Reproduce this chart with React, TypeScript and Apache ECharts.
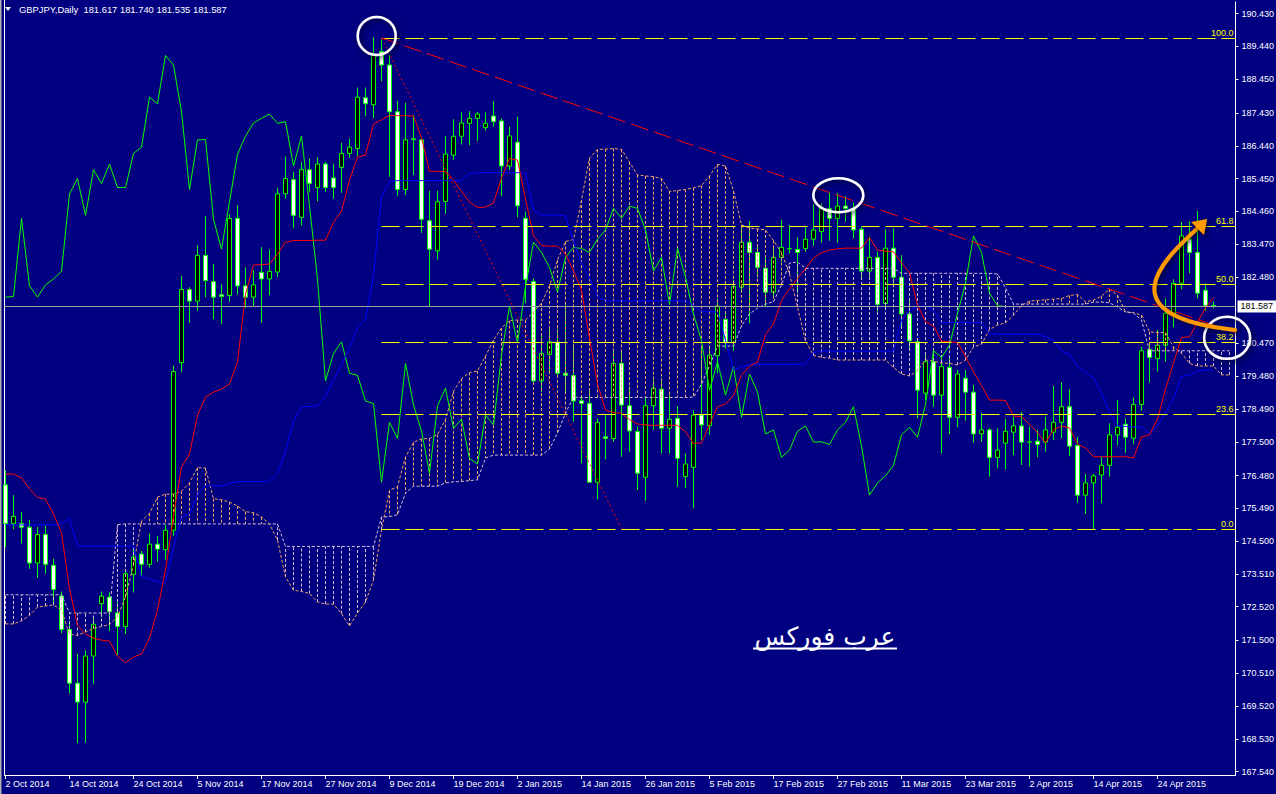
import React, { useEffect, useRef } from "react";
import * as echarts from "echarts";

// ---------- axes ----------
const dateLabels = [
  "2 Oct 2014", "14 Oct 2014", "24 Oct 2014", "5 Nov 2014", "17 Nov 2014", "27 Nov 2014",
  "9 Dec 2014", "19 Dec 2014", "2 Jan 2015", "14 Jan 2015", "26 Jan 2015", "5 Feb 2015",
  "17 Feb 2015", "27 Feb 2015", "11 Mar 2015", "23 Mar 2015", "2 Apr 2015", "14 Apr 2015", "24 Apr 2015",
];
const dateTickBars = [0, 8, 16, 24, 32, 40, 48, 56, 64, 72, 80, 88, 96, 104, 112, 120, 128, 136, 144];
const priceTicks = [
  190.43, 189.44, 188.45, 187.43, 186.44, 185.45, 184.46, 183.47, 182.48, 180.47, 179.48, 178.49,
  177.5, 176.48, 175.49, 174.5, 173.51, 172.52, 171.5, 170.51, 169.52, 168.53, 167.54,
];

// ---------- GBPJPY daily candles ----------
const opens = [
  176.2, 175.03, 175.03, 174.92, 173.84, 174.7, 173.77, 172.84, 171.83, 170.21,
  169.64, 171.03, 172.61, 172.81, 172.33, 171.92, 173.5, 174.11, 173.8, 174.41,
  174.24, 174.83, 179.89, 182.1, 181.75, 183.13, 182.34, 181.94, 181.92, 184.25,
  182.21, 181.87, 182.62, 182.42, 182.63, 184.99, 185.42, 184.28, 185.72, 185.18,
  185.89, 185.47, 185.79, 186.21, 186.36, 187.89, 187.68, 189.29, 188.88, 187.47,
  185.12, 186.65, 186.62, 184.18, 183.27, 184.76, 186.16, 186.73, 187.12, 187.27,
  186.99, 187.34, 187.19, 185.83, 186.55, 184.25, 182.34, 179.34, 180.14, 180.51,
  179.57, 179.5, 178.74, 178.66, 176.28, 177.65, 177.6, 179.87, 178.59, 177.81,
  176.43, 178.59, 179.09, 177.91, 178.21, 176.45, 176.73, 178.31, 177.99, 180.1,
  181.2, 180.5, 182.17, 183.53, 183.22, 182.74, 182.02, 183.07, 183.33, 183.31,
  183.34, 183.62, 183.85, 184.55, 184.25, 184.62, 184.55, 183.92, 182.66, 183.07,
  181.68, 183.35, 182.47, 181.36, 180.52, 178.97, 179.92, 178.91, 179.75, 178.24,
  179.42, 179.0, 177.74, 177.86, 177.03, 177.46, 177.79, 177.98, 177.49, 177.52,
  177.49, 177.79, 178.09, 178.56, 177.39, 175.89, 176.26, 176.5, 176.79, 177.71,
  178.03, 177.61, 178.63, 180.29, 180.02, 180.42, 181.36, 182.29, 183.62, 183.22,
  182.08, 181.617,
];
const highs = [
  176.64, 175.89, 175.38, 175.14, 174.93, 174.97, 173.97, 172.98, 172.1, 171.1,
  171.2, 172.2, 172.98, 172.95, 172.65, 173.66, 174.29, 174.21, 174.73, 174.66,
  175.0, 179.8, 182.51, 182.17, 183.44, 184.32, 182.87, 182.26, 184.38, 184.65,
  182.77, 182.69, 183.38, 183.31, 185.17, 186.12, 185.65, 185.95, 186.06, 186.1,
  185.95, 185.9, 186.53, 186.65, 188.2, 188.2, 189.72, 189.65, 189.19, 187.8,
  187.74, 187.37, 186.71, 185.08, 185.08, 186.74, 187.24, 187.45, 187.49, 187.47,
  187.45, 187.79, 187.27, 187.02, 187.32, 184.45, 182.44, 180.73, 180.93, 180.92,
  181.68, 180.47, 178.86, 179.06, 178.21, 178.31, 180.27, 180.27, 179.17, 177.96,
  178.86, 179.39, 179.42, 178.94, 178.58, 177.15, 178.46, 180.37, 180.42, 181.83,
  181.45, 182.39, 184.02, 184.17, 183.39, 183.11, 183.39, 184.2, 184.05, 183.68,
  183.98, 184.68, 184.7, 185.02, 185.01, 184.92, 184.72, 183.98, 183.7, 183.24,
  183.92, 183.95, 183.14, 181.83, 180.63, 180.17, 180.25, 180.12, 180.07, 179.67,
  179.67, 179.22, 178.38, 177.91, 177.91, 178.19, 178.26, 178.41, 177.96, 177.86,
  178.26, 179.19, 179.3, 179.09, 177.65, 176.53, 176.53, 177.05, 178.06, 178.76,
  178.21, 178.84, 180.37, 180.45, 180.88, 181.83, 182.41, 184.14, 184.16, 184.47,
  182.29, 181.74,
];
const lows = [
  174.32, 174.86, 174.43, 173.66, 173.39, 173.52, 172.61, 171.72, 169.91, 168.4,
  168.41, 170.19, 172.2, 171.79, 171.06, 171.69, 172.95, 173.43, 173.7, 173.88,
  173.94, 174.66, 179.6, 181.09, 181.46, 181.87, 181.2, 181.06, 181.73, 181.95,
  181.54, 181.61, 181.09, 181.93, 182.48, 184.85, 183.96, 184.03, 185.05, 184.76,
  185.05, 184.84, 185.02, 186.07, 186.13, 187.34, 187.28, 188.39, 185.5, 184.93,
  184.95, 185.56, 183.81, 181.58, 183.0, 184.39, 186.02, 186.48, 186.46, 186.59,
  186.9, 187.02, 184.92, 185.71, 184.28, 181.68, 179.27, 179.01, 179.62, 179.45,
  178.97, 178.11, 176.85, 176.27, 175.76, 176.97, 177.5, 177.05, 177.2, 176.04,
  175.72, 177.86, 177.15, 177.15, 176.14, 176.1, 175.49, 177.55, 177.71, 179.57,
  180.32, 180.25, 182.06, 181.08, 182.46, 181.58, 181.83, 182.94, 183.19, 181.99,
  183.24, 183.42, 183.51, 183.57, 183.51, 184.15, 183.65, 182.39, 182.39, 181.43,
  181.53, 182.19, 180.93, 180.32, 178.21, 178.76, 178.56, 177.15, 177.73, 177.94,
  178.14, 177.47, 177.5, 176.45, 176.7, 176.67, 177.1, 176.8, 176.75, 177.03,
  177.2, 177.55, 177.61, 177.07, 175.66, 175.32, 174.86, 175.64, 176.45, 177.4,
  177.17, 177.43, 178.44, 179.29, 179.62, 179.92, 180.96, 182.11, 182.59, 181.83,
  181.46, 181.535,
];
const closes = [
  175.03, 175.25, 174.92, 173.84, 174.7, 173.8, 173.04, 171.83, 170.21, 169.64,
  171.03, 171.99, 172.84, 172.37, 171.92, 173.52, 174.02, 173.8, 174.41, 174.26,
  174.83, 179.62, 182.1, 181.75, 183.13, 182.37, 181.87, 181.89, 184.25, 182.21,
  181.87, 182.24, 182.42, 182.65, 184.99, 185.45, 184.34, 185.72, 185.3, 185.89,
  185.18, 185.18, 186.21, 186.4, 187.91, 187.71, 189.17, 188.88, 187.47, 185.12,
  186.62, 186.63, 184.22, 183.32, 184.75, 186.19, 186.73, 187.13, 187.27, 187.4,
  187.12, 187.17, 185.83, 186.74, 184.63, 182.41, 179.34, 180.17, 180.52, 179.57,
  179.51, 178.73, 178.66, 176.28, 178.09, 177.6, 179.87, 178.61, 177.83, 176.55,
  178.59, 179.12, 177.91, 178.18, 177.0, 176.83, 178.31, 178.01, 180.12, 181.6,
  180.49, 182.19, 183.53, 183.22, 182.77, 182.02, 183.07, 183.37, 183.34, 183.22,
  183.62, 183.9, 184.55, 184.25, 184.62, 184.55, 183.9, 182.66, 183.07, 181.65,
  183.35, 182.47, 181.36, 180.55, 179.06, 179.92, 178.91, 179.77, 178.24, 179.55,
  179.0, 177.74, 177.86, 177.03, 177.25, 177.82, 177.98, 177.49, 177.5, 177.42,
  177.86, 178.09, 178.56, 177.37, 175.89, 176.26, 176.47, 176.79, 177.71, 177.94,
  177.64, 178.63, 180.25, 180.05, 180.42, 181.38, 182.29, 183.72, 183.22, 181.99,
  181.61, 181.587,
];

// ---------- Ichimoku ----------
const tenkan = [
  176.53, 176.53, 176.41, 176.08, 175.82, 175.77, 175.32, 174.75, 173.06, 171.96,
  171.69, 171.57, 171.51, 171.48, 171.02, 170.83, 171.0, 171.09, 171.57, 172.42,
  173.63, 175.26, 176.74, 177.13, 178.31, 178.85, 179.0, 179.09, 179.25, 179.91,
  181.96, 182.84, 182.85, 182.87, 183.17, 183.53, 183.58, 183.58, 183.58, 183.59,
  183.59, 184.13, 184.46, 185.41, 186.1, 186.16, 187.1, 187.23, 187.36, 187.35,
  187.35, 187.34, 186.68, 185.67, 185.67, 185.66, 185.41, 185.06, 184.74, 184.58,
  184.59, 184.71, 185.47, 186.06, 186.01, 184.83, 183.72, 183.43, 183.41, 183.41,
  183.17, 182.66, 182.08, 180.64, 179.24, 178.46, 178.38, 178.36, 178.17, 178.04,
  178.01, 178.0, 178.0, 178.0, 178.0, 177.8, 177.45, 177.47, 178.02, 178.56,
  178.64, 178.9, 179.51, 179.78, 179.91, 180.74, 181.06, 181.77, 182.12, 182.43,
  182.73, 183.05, 183.21, 183.29, 183.33, 183.35, 183.35, 183.35, 183.67, 183.29,
  183.26, 183.24, 182.9, 182.61, 181.63, 181.13, 181.0, 180.54, 180.52, 180.5,
  180.08, 179.61, 179.2, 178.76, 178.76, 178.75, 178.28, 178.26, 178.03, 177.78,
  177.47, 177.86, 177.98, 177.92, 177.43, 177.31, 177.05, 177.05, 177.05, 177.05,
  177.05, 177.01, 177.65, 177.71, 178.19, 179.09, 179.88, 180.65, 180.67, 181.12,
  181.54, 181.86,
];
const kijun = [
  174.99, 174.99, 174.99, 174.99, 174.99, 174.99, 174.99, 175.03, 175.17, 174.35,
  174.35, 174.35, 174.35, 174.35, 174.35, 174.35, 174.35, 173.42, 173.36, 173.27,
  173.24, 174.32, 175.22, 175.32, 175.91, 176.17, 176.17, 176.17, 176.24, 176.3,
  176.3, 176.3, 176.3, 176.3, 176.54, 177.22, 178.13, 178.55, 178.57, 178.58,
  178.88, 179.37, 179.83, 180.33, 180.97, 181.18, 182.54, 184.91, 185.36, 185.39,
  185.39, 185.39, 185.39, 185.39, 185.39, 185.39, 185.39, 185.39, 185.6, 185.63,
  185.63, 185.63, 185.63, 185.63, 185.63, 185.62, 184.5, 184.35, 184.35, 184.35,
  184.32, 183.56, 182.9, 182.45, 181.87, 181.76, 181.76, 181.76, 181.76, 181.76,
  181.76, 181.76, 181.76, 181.76, 181.76, 181.76, 181.63, 181.43, 181.43, 181.42,
  180.57, 179.67, 179.76, 179.83, 179.84, 179.84, 179.84, 179.84, 179.84, 179.84,
  179.85, 180.2, 180.24, 180.24, 180.24, 180.24, 180.24, 180.24, 180.24, 180.24,
  180.24, 180.24, 181.18, 181.45, 181.6, 181.6, 181.48, 181.1, 181.1, 181.1,
  181.1, 181.1, 181.1, 180.75, 180.75, 180.75, 180.75, 180.75, 180.75, 180.75,
  180.67, 180.57, 180.23, 180.15, 179.76, 179.61, 179.43, 178.97, 178.4, 177.99,
  177.96, 177.95, 177.94, 177.74, 177.98, 178.37, 178.82, 179.47, 179.52, 179.64,
  179.67, 179.67,
];
const spanA = [
  172.0, 172.0, 172.09, 172.26, 172.51, 172.54, 172.57, 172.42, 171.69, 171.65,
  171.76, 171.86, 171.92, 171.98, 172.21, 172.81, 173.78, 175.11, 175.34, 175.83,
  175.92, 175.92, 176.01, 176.26, 176.72, 176.71, 175.78, 175.75, 175.68, 175.56,
  175.39, 175.36, 175.23, 175.02, 174.53, 173.42, 173.02, 172.98, 172.92, 172.66,
  172.6, 172.6, 172.31, 171.94, 172.33, 172.66, 173.33, 174.84, 176.03, 176.15,
  177.04, 177.48, 177.59, 177.6, 177.72, 178.17, 179.03, 179.41, 179.59, 179.64,
  180.09, 180.57, 180.94, 181.16, 181.18, 181.18, 181.42, 181.69, 182.21, 182.99,
  183.55, 183.61, 184.8, 186.07, 186.33, 186.34, 186.36, 186.33, 185.95, 185.56,
  185.53, 185.51, 185.45, 185.06, 185.09, 185.12, 185.17, 185.24, 185.53, 185.88,
  185.83, 185.08, 184.05, 183.96, 183.93, 183.9, 183.58, 183.22, 182.57, 181.57,
  180.55, 180.11, 180.05, 180.03, 179.97, 179.97, 179.97, 179.97, 179.97, 179.97,
  179.97, 179.75, 179.55, 179.49, 179.64, 179.97, 179.94, 179.88, 179.87, 179.82,
  179.97, 180.36, 180.45, 180.89, 181.03, 181.09, 181.32, 181.62, 181.75, 181.77,
  181.79, 181.81, 181.83, 181.92, 181.95, 181.73, 181.78, 181.9, 182.11, 181.93,
  181.43, 181.4, 181.33, 180.82, 180.8, 180.8, 180.36, 180.18, 179.87, 179.79,
  179.79, 179.79, 179.52, 179.52,
];
const spanB = [
  172.88, 172.88, 172.88, 172.88, 172.88, 172.88, 172.88, 172.88, 172.33, 172.33,
  172.33, 172.33, 172.33, 172.33, 175.0, 175.02, 175.02, 175.02, 175.02, 175.02,
  175.02, 175.02, 175.02, 175.02, 175.02, 175.02, 175.02, 175.02, 175.02, 175.02,
  175.02, 175.02, 175.02, 175.02, 175.02, 174.34, 174.34, 174.34, 174.34, 174.34,
  174.34, 174.34, 174.34, 174.34, 174.34, 174.34, 174.34, 175.23, 175.24, 175.3,
  175.95, 176.16, 176.16, 176.16, 176.16, 176.26, 176.29, 176.3, 176.33, 176.35,
  177.01, 177.1, 177.1, 177.1, 177.1, 177.1, 177.1, 177.1, 177.28, 177.77,
  178.37, 178.85, 178.84, 178.84, 178.84, 178.84, 178.84, 178.84, 178.84, 178.84,
  178.84, 178.84, 178.84, 178.84, 178.84, 178.84, 178.85, 179.24, 179.79, 180.39,
  180.39, 180.39, 181.0, 181.36, 181.54, 181.66, 181.73, 182.24, 182.9, 182.93,
  182.74, 182.74, 182.74, 182.74, 182.74, 182.74, 182.74, 182.74, 182.74, 182.74,
  182.74, 182.74, 182.59, 182.59, 182.59, 182.59, 182.59, 182.59, 182.59, 182.59,
  182.59, 182.59, 182.59, 182.59, 182.57, 182.15, 181.66, 181.66, 181.66, 181.66,
  181.66, 181.66, 181.66, 181.66, 181.66, 181.66, 181.72, 181.72, 181.7, 181.57,
  181.42, 181.39, 181.18, 180.25, 180.25, 180.25, 180.25, 180.25, 180.25, 180.25,
  180.25, 180.25, 180.25, 180.25,
];
const chikouShift = 26;

// ---------- drawings ----------
const fibRatios = ["0.0", "23.6", "38.2", "50.0", "61.8", "100.0"];
const fibPrices = [174.852, 178.325, 180.5, 182.252, 184.003, 189.682];
const fibStartBar = 47;
const trendLine = [[47, 189.7], [153.75, 180.8]];
const fibDiagonal = [[47, 189.7], [77, 174.87]];
const lastQuote = { open: 181.617, high: 181.74, low: 181.535, close: 181.587 };
const highlightCircles = [
  [46.4, 189.76, 19, 19],
  [104.1, 184.95, 25, 17],
  [152.7, 180.64, 23, 21],
];
const arrowCurve = [[153.7, 180.88], [136.2, 181.33], [146.2, 183.29], [148.9, 183.93]];
const arrowHead = [[150.2, 184.23], [148.2, 184.14], [149.8, 183.75]];

// ---------- style ----------
const FONT = '"Liberation Sans", Arial, sans-serif';
const BG = "#000080";
const FG = "#ffffff";
const LIME = "#00ff00";
const SANDY = "#f4a460";
const THISTLE = "#d8bfd8";
const FIB = "#ffff00";
const X_MIN = -0.125;
const X_MAX = 153.75;

function buildOption(): any {
  const candleData = opens.map((o, i) => [i, o, closes[i], lows[i], highs[i]]);
  const chikouData = closes.slice(chikouShift).map((c, k) => [k, c]);
  const cloudData = spanA.map((a, i) => [i, a, spanB[i]]);

  const fibLine = { color: FIB, width: 1, type: [18, 6] };
  const fibMarks = fibPrices.map((p, k) => [
    { coord: [fibStartBar, p], lineStyle: fibLine },
    {
      coord: [X_MAX, p],
      lineStyle: fibLine,
      label: {
        show: true,
        position: "insideEndTop",
        formatter: fibRatios[k],
        color: FIB,
        fontSize: 9,
        fontFamily: FONT,
        distance: [2, 1],
      },
    },
  ]);
  const trendStyle = { color: "#ff0000", width: 1, type: [18, 6] };
  const diagStyle = { color: "#ff0000", width: 1, type: [2, 3] };

  return {
    animation: false,
    backgroundColor: BG,
    textStyle: { fontFamily: FONT },
    grid: { left: 4.5, top: 2, width: 1231, height: 773, containLabel: false, outerBoundsMode: "none" },
    xAxis: {
      type: "value",
      min: X_MIN,
      max: X_MAX,
      axisLine: { show: true, onZero: false, lineStyle: { color: FG, width: 1 } },
      axisTick: { show: true, customValues: dateTickBars, length: 4, lineStyle: { color: FG } },
      axisLabel: {
        show: true,
        customValues: dateTickBars,
        formatter: (v: number) => {
          const k = dateTickBars.indexOf(Math.round(v));
          return k >= 0 ? dateLabels[k] : "";
        },
        color: FG,
        fontSize: 9,
        fontFamily: FONT,
        align: "left",
        margin: 4,
      },
      splitLine: { show: false },
    },
    yAxis: {
      type: "value",
      position: "right",
      min: 167.437,
      max: 190.784,
      axisLine: { show: true, onZero: false, lineStyle: { color: FG, width: 1 } },
      axisTick: { show: true, customValues: priceTicks, length: 3, lineStyle: { color: FG } },
      axisLabel: {
        show: true,
        customValues: priceTicks,
        formatter: (v: number) => v.toFixed(3),
        color: FG,
        fontSize: 9,
        fontFamily: FONT,
        margin: 6,
      },
      splitLine: { show: false },
    },
    series: [
      {
        type: "line",
        name: "bid",
        data: [],
        z: 1,
        silent: true,
        markLine: {
          silent: true,
          symbol: ["none", "none"],
          lineStyle: { color: "#a0a0a0", width: 1, type: "solid" },
          label: {
            show: true,
            position: "end",
            formatter: lastQuote.close.toFixed(3),
            color: "#000000",
            backgroundColor: "#ffffff",
            padding: [2, 4, 1, 3],
            fontSize: 9,
            fontFamily: FONT,
            distance: 2,
          },
          data: [{ yAxis: lastQuote.close }],
        },
      },
      {
        type: "candlestick",
        name: "GBPJPY",
        data: candleData,
        encode: { x: 0, y: [1, 2, 3, 4] },
        barWidth: 4,
        clip: true,
        z: 2,
        itemStyle: {
          color: "#000000",
          color0: "#ffffff",
          borderColor: LIME,
          borderColor0: LIME,
          borderColorDoji: LIME,
          borderWidth: 1,
        },
      },
      {
        type: "custom",
        name: "kumo",
        data: cloudData,
        encode: { x: 0, y: [1, 2] },
        clip: true,
        silent: true,
        z: 3,
        renderItem: (params: any, api: any) => {
          const i = api.value(0);
          const a = api.value(1);
          const b = api.value(2);
          const p1 = api.coord([i, a]);
          const p2 = api.coord([i, b]);
          return {
            type: "line",
            shape: { x1: p1[0], y1: p1[1], x2: p2[0], y2: p2[1] },
            style: { stroke: a >= b ? SANDY : THISTLE, lineWidth: 1, lineDash: [3, 2], fill: null },
          };
        },
      },
      {
        type: "line",
        name: "Senkou A",
        data: spanA.map((v, i) => [i, v]),
        showSymbol: false,
        silent: true,
        z: 3,
        itemStyle: { color: SANDY },
        lineStyle: { color: SANDY, width: 1, type: [3, 2] },
      },
      {
        type: "line",
        name: "Senkou B",
        data: spanB.map((v, i) => [i, v]),
        showSymbol: false,
        silent: true,
        z: 3,
        itemStyle: { color: THISTLE },
        lineStyle: { color: THISTLE, width: 1, type: [3, 2] },
      },
      {
        type: "line",
        name: "Chikou",
        data: chikouData,
        showSymbol: false,
        silent: true,
        z: 3,
        lineStyle: { color: LIME, width: 1 },
      },
      {
        type: "line",
        name: "Kijun",
        data: kijun.map((v, i) => [i, v]),
        showSymbol: false,
        silent: true,
        z: 3,
        lineStyle: { color: "#0000ff", width: 1 },
      },
      {
        type: "line",
        name: "Tenkan",
        data: tenkan.map((v, i) => [i, v]),
        showSymbol: false,
        silent: true,
        z: 3,
        lineStyle: { color: "#ff0000", width: 1 },
      },
      {
        type: "line",
        name: "drawings",
        data: [],
        silent: true,
        z: 4,
        itemStyle: { color: FIB },
        markLine: {
          silent: true,
          symbol: ["none", "none"],
          lineStyle: fibLine,
          label: { show: false },
          data: [
            ...fibMarks,
            [
              { coord: trendLine[0], lineStyle: trendStyle },
              { coord: trendLine[1], lineStyle: trendStyle, label: { show: false } },
            ],
            [
              { coord: fibDiagonal[0], lineStyle: diagStyle },
              { coord: fibDiagonal[1], lineStyle: diagStyle, label: { show: false } },
            ],
          ],
        },
      },
      {
        type: "custom",
        name: "circles",
        data: highlightCircles,
        encode: { x: 0, y: 1 },
        clip: false,
        silent: true,
        z: 6,
        renderItem: (params: any, api: any) => {
          const c = api.coord([api.value(0), api.value(1)]);
          return {
            type: "ellipse",
            shape: { cx: c[0], cy: c[1], rx: api.value(2), ry: api.value(3) },
            style: {
              fill: null,
              stroke: "#ffffff",
              lineWidth: 2.5,
              shadowBlur: 5,
              shadowColor: "rgba(0,0,30,0.9)",
              shadowOffsetX: 2,
              shadowOffsetY: 2,
            },
          };
        },
      },
      {
        type: "custom",
        name: "arrow",
        data: [arrowCurve[0]],
        encode: { x: 0, y: 1 },
        clip: false,
        silent: true,
        z: 7,
        renderItem: (params: any, api: any) => {
          const p = arrowCurve.map((q) => api.coord(q));
          const h = arrowHead.map((q) => api.coord(q));
          return {
            type: "group",
            children: [
              {
                type: "bezierCurve",
                shape: {
                  x1: p[0][0], y1: p[0][1],
                  cpx1: p[1][0], cpy1: p[1][1],
                  cpx2: p[2][0], cpy2: p[2][1],
                  x2: p[3][0], y2: p[3][1],
                },
                style: {
                  stroke: "#ff9a00",
                  lineWidth: 4,
                  fill: null,
                  lineCap: "round",
                  shadowBlur: 4,
                  shadowColor: "rgba(0,0,0,0.6)",
                  shadowOffsetX: 2,
                  shadowOffsetY: 2,
                },
              },
              {
                type: "polygon",
                shape: { points: h },
                style: {
                  fill: "#ff9a00",
                  shadowBlur: 4,
                  shadowColor: "rgba(0,0,0,0.6)",
                  shadowOffsetX: 2,
                  shadowOffsetY: 2,
                },
              },
            ],
          };
        },
      },
    ],
    graphic: [
      { type: "rect", shape: { x: 0, y: 0, width: 1.5, height: 794 }, style: { fill: "#b0b0b0" }, silent: true },
      { type: "line", shape: { x1: 4.5, y1: 0, x2: 4.5, y2: 775 }, style: { stroke: FG, lineWidth: 1 }, silent: true },
      {
        type: "polygon",
        shape: { points: [[5, 7], [11, 7], [8, 11]] },
        style: { fill: FG },
        silent: true,
        z: 100,
      },
      {
        type: "text",
        x: 19,
        y: 9.5,
        z: 100,
        silent: true,
        style: {
          text: "GBPJPY,Daily  " +
            [lastQuote.open, lastQuote.high, lastQuote.low, lastQuote.close].map((v) => v.toFixed(3)).join(" "),
          fill: FG,
          fontSize: 9.4,
          fontFamily: FONT,
          verticalAlign: "middle",
          align: "left",
        },
      },
      {
        type: "text",
        x: 825,
        y: 636,
        z: 100,
        silent: true,
        style: {
          text: "عرب فوركس",
          fill: FG,
          fontSize: 25,
          fontFamily: '"DejaVu Sans", sans-serif',
          align: "center",
          verticalAlign: "middle",
        },
      },
      {
        type: "rect",
        z: 100,
        silent: true,
        shape: { x: 753, y: 647.5, width: 144, height: 2 },
        style: { fill: FG },
      },
    ],
  };
}

export default function App() {
  const ref = useRef<HTMLDivElement>(null);
  useEffect(() => {
    if (!ref.current) return;
    const chart = echarts.init(ref.current, null, { renderer: "svg" });
    chart.setOption(buildOption());
    return () => chart.dispose();
  }, []);
  return (
    <div
      ref={ref}
      style={{ position: "absolute", left: 0, top: 0, width: 1276, height: 794, background: BG }}
    />
  );
}
